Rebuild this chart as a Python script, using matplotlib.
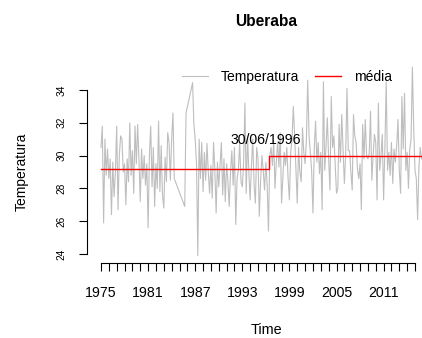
import numpy as np
import matplotlib
matplotlib.use("Agg")
import matplotlib.pyplot as plt

plt.rcParams["font.family"] = ["Liberation Sans", "DejaVu Sans"]

# bi-monthly readings, one row per year starting 1975 (None = no record)
START_YEAR = 1975
PER_YEAR = 6
temp_rows = [
    [30.5, 31.8, 25.9, 31.0, 28.8, 30.4],   # 1975
    [28.6, 29.8, 26.4, 29.6, 27.5, 29.0],
    [31.8, 26.7, 30.0, 31.2, 31.0, 29.0],
    [29.5, 27.0, 29.8, 28.4, 32.0, 28.8],
    [30.3, 27.7, 31.8, 29.5, 31.9, 29.8],
    [27.2, 30.4, 28.6, 30.0, 28.2, 29.5],   # 1980
    [25.6, 30.0, 31.8, 28.1, 30.5, 26.9],
    [29.5, 28.0, 32.1, 27.8, 30.6, 27.6],
    [26.8, 29.9, 28.4, 31.4, 30.8, 28.5],
    [31.0, 32.6, 28.6, None, None, None],
    [None, None, None, None, 26.9, 32.6],   # 1985
    [None, None, None, None, 34.45, 31.9],
    [31.0, 29.5, 23.9, 31.0, 28.6, 30.8],
    [27.8, 30.2, 28.5, 30.75, 29.0, 27.7],
    [29.4, 27.4, 30.8, 29.2, 26.5, 29.6],
    [28.1, 29.5, 30.8, 27.6, 29.8, 27.2],   # 1990
    [29.5, 28.4, 26.9, 29.0, 30.3, 28.2],
    [30.5, 25.8, 28.6, 29.1, 30.8, 28.4],
    [28.1, 29.6, 33.2, 27.7, 31.2, 29.0],
    [27.3, 29.4, 31.0, 28.2, 27.1, 30.5],
    [29.8, 26.3, 28.5, 30.0, 29.1, 27.9],   # 1995
    [29.6, 28.2, 25.4, 30.0, 30.5, 29.4],
    [30.9, 28.0, 29.6, 30.8, 29.3, 31.4],
    [27.1, 28.7, 30.2, 29.4, 30.5, 28.6],
    [27.3, 30.2, 31.0, 33.0, 31.2, 29.1],
    [27.1, 30.5, 29.0, 28.4, 31.7, 30.2],   # 2000
    [29.5, 31.0, 34.6, 31.2, 30.2, 29.1],
    [26.5, 30.4, 32.1, 29.6, 30.8, 28.9],
    [30.2, 26.7, 34.5, 29.1, 30.6, 32.3],
    [29.8, 27.9, 33.6, 30.5, 31.2, 29.5],
    [27.7, 28.0, 31.9, 29.6, 32.5, 30.4],   # 2005
    [28.3, 30.0, 34.1, 30.3, 30.3, 29.0],
    [27.9, 32.5, 31.2, 30.8, 29.2, 28.6],
    [29.5, 26.7, 31.9, 29.8, 32.2, 30.0],
    [29.8, 30.1, 32.7, 28.5, 30.0, 31.3],
    [30.8, 27.3, 33.2, 29.1, 30.0, 31.3],   # 2010
    [27.3, 30.5, 34.5, 29.1, 30.2, 28.8],
    [30.8, 28.3, 30.4, 29.6, 30.6, 32.2],
    [29.1, 27.7, 33.6, 30.4, 33.8, 29.1],
    [30.2, 28.0, 30.4, 31.0, 35.4, 31.7],
    [29.1, 28.6, 26.1, 29.3, 30.5, 29.8],   # 2015
]

mean_levels = [29.16, 30.0]
break_year = 1996.45
break_label = "30/06/1996"

x_tick_years = list(range(1975, 2016))
y_ticks = [24, 26, 28, 30, 32, 34]

# flatten the rows into a time series, skipping missing months
flat = [v for row in temp_rows for v in row]
t_all = START_YEAR + np.arange(len(flat)) / PER_YEAR
keep = np.array([v is not None for v in flat])
t = t_all[keep]
temp = np.array([v for v in flat if v is not None], dtype=float)

mean_t = [t[0], break_year, break_year, t[-1]]
mean_v = [mean_levels[0], mean_levels[0], mean_levels[1], mean_levels[1]]

W, H = 422, 338
fig = plt.figure(figsize=(W / 100, H / 100), dpi=100)
ax = fig.add_axes([87 / W, (H - 263) / H, (W - 87) / W, (263 - 59) / H])

line_t, = ax.plot(t, temp, color="#bebebe", lw=0.8, label="Temperatura", zorder=2)
line_m, = ax.plot(mean_t, mean_v, color="#ff0000", lw=1.0, label="média", zorder=3)

px_year = 7.85
px_deg = 16.4
ax.set_xlim(1975 - 14 / px_year, 1975 + (W - 101) / px_year)
ax.set_ylim(24 - 9 / px_deg, 24 + (254 - 59) / px_deg)

for s in ["top", "right"]:
    ax.spines[s].set_visible(False)
ax.spines["left"].set_bounds(24, 34)
ax.spines["bottom"].set_bounds(1975, 2015)
for s in ["left", "bottom"]:
    ax.spines[s].set_linewidth(0.8)

ax.set_xticks(x_tick_years)
ax.set_xticklabels([str(y) if (y - 1975) % 6 == 0 else "" for y in x_tick_years])
ax.set_yticks(y_ticks)
ax.set_yticklabels([str(v) for v in y_ticks])
ax.tick_params(axis="x", direction="out", length=6, width=0.8, pad=10.5, labelsize=10.2)
ax.tick_params(axis="y", direction="out", length=6, width=0.8, pad=9, labelsize=7.3)
for lab in ax.get_yticklabels():
    lab.set_rotation(90)
    lab.set_va("center")

ax.text(1996.0, 30.95, break_label, ha="center", va="center", fontsize=10.2)

fig.text(266 / W, 1 - 22 / H, "Uberaba", ha="center", va="center",
         fontsize=11.2, fontweight="bold")
fig.text(266 / W, 1 - 330 / H, "Time", ha="center", va="center", fontsize=10.4)
fig.text(22 / W, 1 - 172 / H, "Temperatura", ha="center", va="center",
         rotation=90, fontsize=10)

fig.legend([line_t, line_m], ["Temperatura", "média"], loc="center left",
           bbox_to_anchor=(182 / W, 1 - 77 / H), ncol=2, frameon=False,
           borderpad=0, borderaxespad=0, handlelength=1.86, handletextpad=0.93,
           columnspacing=1.14, fontsize=10)

fig.savefig("out.png", dpi=100)
plt.close(fig)
